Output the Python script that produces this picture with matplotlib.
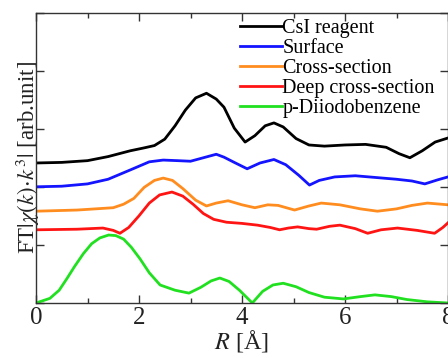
import matplotlib.pyplot as plt
from matplotlib.ticker import MultipleLocator

plt.rcParams['font.family'] = ['Liberation Serif', 'DejaVu Serif']
plt.rcParams['mathtext.fontset'] = 'stix'

# 数据
r_csi = [0, 0.5, 1.0, 1.4, 1.83, 2.1, 2.3, 2.5, 2.7, 2.9, 3.1, 3.31, 3.5, 3.65, 3.85,
         4.06, 4.25, 4.45, 4.62, 4.8, 5.05, 5.3, 5.6, 6.0, 6.4, 6.8, 7.05, 7.26, 7.5, 7.75, 8.0]
y_csi = [2.41, 2.42, 2.45, 2.52, 2.62, 2.67, 2.71, 2.82, 3.05, 3.32, 3.53, 3.61, 3.51, 3.37, 3.01,
         2.77, 2.88, 3.05, 3.10, 3.03, 2.83, 2.72, 2.70, 2.72, 2.73, 2.68, 2.57, 2.50, 2.62, 2.77, 2.84]

r_surf = [0, 0.5, 1.0, 1.4, 1.83, 2.2, 2.47, 2.75, 3.0, 3.25, 3.5, 3.65, 3.85, 4.1, 4.35,
          4.62, 4.85, 5.1, 5.31, 5.5, 5.8, 6.2, 6.6, 7.0, 7.3, 7.55, 7.8, 8.0]
y_surf = [2.00, 2.01, 2.05, 2.13, 2.29, 2.43, 2.46, 2.45, 2.44, 2.50, 2.56, 2.51, 2.42, 2.31, 2.41,
          2.47, 2.38, 2.20, 2.03, 2.11, 2.17, 2.19, 2.16, 2.13, 2.10, 2.05, 2.12, 2.17]

r_cross = [0, 0.8, 1.5, 1.7, 1.9, 2.1, 2.3, 2.47, 2.65, 2.85, 3.1, 3.31, 3.5, 3.73, 4.0,
           4.25, 4.5, 4.7, 5.02, 5.3, 5.54, 5.9, 6.3, 6.63, 7.0, 7.3, 7.6, 8.0]
y_cross = [1.58, 1.60, 1.64, 1.70, 1.80, 1.99, 2.11, 2.15, 2.11, 1.97, 1.77, 1.67, 1.72, 1.76, 1.69,
           1.64, 1.69, 1.68, 1.60, 1.67, 1.72, 1.69, 1.62, 1.58, 1.62, 1.68, 1.72, 1.69]

r_deep = [0, 0.8, 1.3, 1.5, 1.63, 1.8, 2.0, 2.2, 2.4, 2.64, 2.85, 3.05, 3.25, 3.45, 3.7,
          4.0, 4.3, 4.55, 4.73, 4.9, 5.08, 5.3, 5.45, 5.7, 5.9, 6.2, 6.44, 6.7, 7.02, 7.4,
          7.74, 7.9, 8.0]
y_deep = [1.26, 1.27, 1.29, 1.25, 1.20, 1.30, 1.50, 1.72, 1.86, 1.91, 1.84, 1.70, 1.54, 1.44, 1.39,
          1.37, 1.34, 1.30, 1.26, 1.29, 1.31, 1.28, 1.27, 1.32, 1.34, 1.28, 1.20, 1.26, 1.29, 1.25,
          1.20, 1.30, 1.38]

r_diiodo = [0, 0.27, 0.45, 0.6, 0.75, 0.92, 1.08, 1.24, 1.41, 1.55, 1.7, 1.85, 2.02, 2.2, 2.41,
            2.7, 2.97, 3.2, 3.4, 3.57, 3.75, 3.95, 4.2, 4.4, 4.6, 4.8, 5.05, 5.3, 5.6, 5.97,
            6.3, 6.58, 6.9, 7.2, 7.6, 8.0]
y_diiodo = [0.0, 0.08, 0.22, 0.42, 0.63, 0.85, 1.02, 1.12, 1.17, 1.16, 1.10, 0.96, 0.76, 0.52, 0.31,
            0.22, 0.17, 0.27, 0.38, 0.43, 0.37, 0.22, 0.0, 0.2, 0.31, 0.34, 0.28, 0.18, 0.1, 0.07,
            0.11, 0.14, 0.11, 0.06, 0.02, 0.0]

fig = plt.figure(figsize=(4.48, 3.58), dpi=100)
ax = fig.add_axes([36 / 448, 1 - 303 / 358, 412 / 448, 290.5 / 358])

lw = 2.0
ax.plot(r_csi, y_csi, color='black', lw=lw, label='CsI reagent')
ax.plot(r_surf, y_surf, color='#1414ff', lw=lw, label='Surface')
ax.plot(r_cross, y_cross, color='#ff8c1e', lw=lw, label='Cross-section')
ax.plot(r_deep, y_deep, color='#ff1414', lw=lw, label='Deep cross-section')
ax.plot(r_diiodo, y_diiodo, color='#20e020', lw=lw, label='p-Diiodobenzene')

ax.set_xlim(0, 8)
ax.set_ylim(0, 5)
ax.xaxis.set_major_locator(MultipleLocator(2))
ax.xaxis.set_minor_locator(MultipleLocator(1))
ax.yaxis.set_major_locator(MultipleLocator(1))
ax.set_yticklabels([])
ax.tick_params(which='both', direction='in', top=True, right=True, width=1.0, colors='#333333')
ax.tick_params(which='major', length=6, labelsize=18, labelcolor='#222222', pad=3)
ax.tick_params(which='minor', length=3.5)
for s in ax.spines.values():
    s.set_color('#333333')
    s.set_linewidth(1.0)

ax.set_xlabel(r'$R$ [Å]', fontsize=17.5, labelpad=-1, color='#222222')
ax.set_ylabel(r'FT$|\chi(k)\!\cdot\! k^3|$ [arb.unit]', fontsize=16.5, labelpad=-7, color='#222222')

ax.legend(loc='upper left', bbox_to_anchor=(0.49, 0.985), frameon=False, fontsize=14.5,
          handlelength=2.1, handletextpad=0.0, labelspacing=0.05, borderaxespad=0.0,
          borderpad=0.1)

plt.savefig('out.png', dpi=100)
plt.close()
